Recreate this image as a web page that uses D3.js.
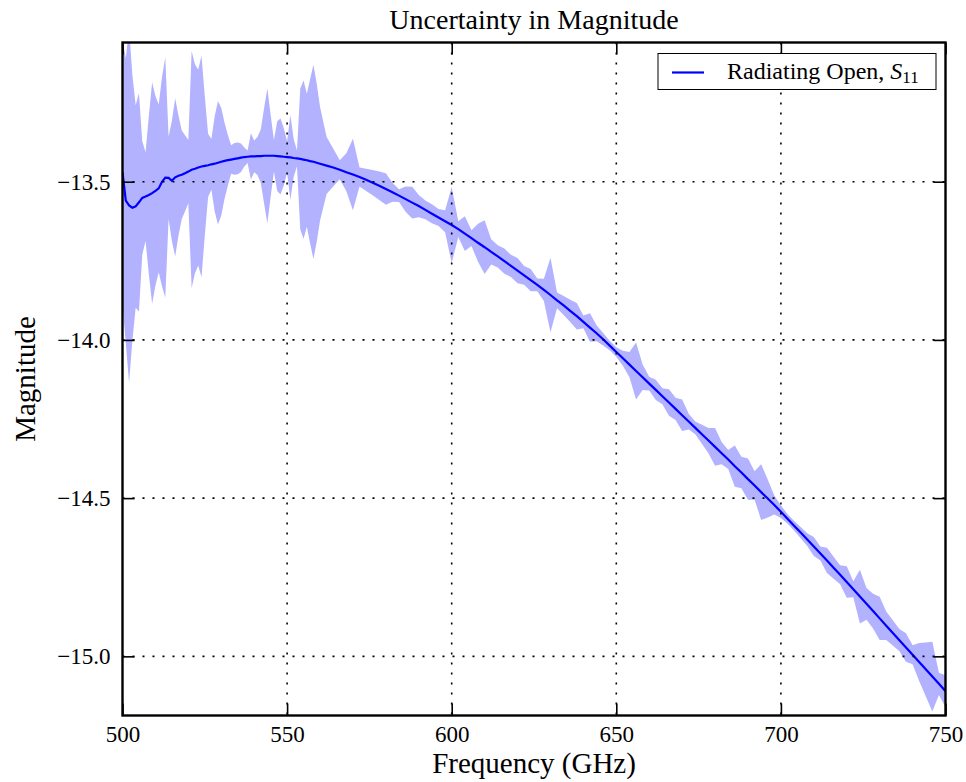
<!DOCTYPE html>
<html><head><meta charset="utf-8">
<script src="https://cdn.jsdelivr.net/npm/d3@7"></script>
<style>body{margin:0;background:#fff}</style>
</head><body><svg id="c" width="966" height="782"></svg>
<script>
const freq = [
500,501,502,503,504,505,506,507,508,509,
510,511,512,513,514,515,516,517,518,519,
520,521,522,523,524,525,526,527,528,529,
530,531,532,533,534,535,536,537,538,539,
540,541,542,543,544,545,546,547,548,549,
550,551,552,553,554,555,556,557,558,559,
560,
562,564,566,568,570,572,574,576,578,580,
582,584,586,588,590,592,594,596,598,600,
602,604,606,608,610,612,614,616,618,620,
622,624,626,628,630,632,634,636,638,640,
642,644,646,648,650,652,654,656,658,660,
662,664,666,668,670,672,674,676,678,680,
682,684,686,688,690,692,694,696,698,700,
702,704,706,708,710,712,714,716,718,720,
722,724,726,728,730,732,734,736,738,740,
742,744,746,748,750];
const meanMag = [
-13.47,-13.56,-13.575,-13.582,-13.578,-13.565,-13.551,-13.547,-13.542,-13.536,
-13.529,-13.521,-13.50,-13.487,-13.488,-13.497,-13.486,-13.481,-13.478,-13.473,
-13.468,-13.462,-13.459,-13.455,-13.452,-13.450,-13.448,-13.445,-13.443,-13.440,
-13.437,-13.434,-13.432,-13.430,-13.428,-13.426,-13.424,-13.422,-13.421,-13.420,
-13.420,-13.419,-13.419,-13.418,-13.418,-13.418,-13.418,-13.419,-13.420,-13.421,
-13.422,-13.423,-13.425,-13.426,-13.428,-13.430,-13.432,-13.435,-13.437,-13.440,
-13.443,
-13.449,-13.455,-13.462,-13.470,-13.477,-13.485,-13.494,-13.503,-13.513,-13.523,
-13.533,-13.544,-13.555,-13.566,-13.577,-13.589,-13.601,-13.613,-13.625,-13.637,
-13.650,-13.664,-13.678,-13.693,-13.707,-13.722,-13.736,-13.751,-13.766,-13.781,
-13.796,-13.811,-13.826,-13.842,-13.858,-13.875,-13.891,-13.908,-13.925,-13.943,
-13.961,-13.979,-13.998,-14.018,-14.038,-14.058,-14.078,-14.098,-14.118,-14.138,
-14.158,-14.178,-14.198,-14.218,-14.238,-14.258,-14.278,-14.298,-14.318,-14.338,
-14.358,-14.378,-14.399,-14.419,-14.440,-14.460,-14.481,-14.501,-14.522,-14.543,
-14.565,-14.587,-14.609,-14.631,-14.653,-14.675,-14.697,-14.720,-14.742,-14.765,
-14.788,-14.811,-14.834,-14.857,-14.880,-14.903,-14.926,-14.949,-14.972,-14.995,
-15.018,-15.041,-15.064,-15.087,-15.110];
const uncert = [
0.42,0.45,0.56,0.42,0.32,0.345,0.18,0.14,0.25,0.35,
0.30,0.265,0.33,0.38,0.13,0.19,0.25,0.19,0.14,0.12,
0.10,0.375,0.33,0.31,0.35,0.22,0.10,0.08,0.15,0.195,
0.17,0.12,0.08,0.045,0.05,0.05,0.045,0.03,0.02,0.073,
0.05,0.06,0.084,0.15,0.213,0.13,0.05,0.11,0.12,0.09,
0.05,0.134,0.06,0.025,0.223,0.25,0.21,0.26,0.307,0.25,
0.18,
0.09,0.06,0.03,0.06,0.113,0.03,0.035,0.04,0.045,0.05,
0.03,0.02,0.04,0.05,0.035,0.03,0.03,0.027,0.035,0.12,
0.025,0.055,0.025,0.06,0.085,0.04,0.035,0.04,0.035,0.04,
0.03,0.035,0.02,0.035,0.118,0.025,0.03,0.035,0.042,0.02,
0.045,0.025,0.02,0.015,0.015,0.024,0.04,0.09,0.04,0.022,
0.032,0.025,0.042,0.035,0.05,0.025,0.02,0.03,0.04,0.06,
0.035,0.03,0.065,0.05,0.065,0.045,0.088,0.06,0.03,0.02,
0.015,0.015,0.018,0.02,0.03,0.022,0.04,0.035,0.03,0.05,
0.025,0.085,0.05,0.055,0.068,0.045,0.04,0.035,0.045,0.03,
0.06,0.085,0.11,0.035,0.05];
const xTicks = [500,550,600,650,700,750];
const yTicks = [-13.5,-14.0,-14.5,-15.0];
const seriesName = "Radiating Open, ";

const FONT = "'Liberation Serif', 'DejaVu Serif', serif";
const svg = d3.select("#c");
const L = 122.5, R = 945.5, T = 42.5, B = 715.5;
const x = d3.scaleLinear().domain([500,750]).range([L,R]);
const y = d3.scaleLinear().domain([-15.187,-13.06]).range([B,T]);
const data = freq.map((f,i)=>({f, m:meanMag[i], u:uncert[i]}));

svg.append("defs").append("clipPath").attr("id","clip")
  .append("rect").attr("x",L).attr("y",T).attr("width",R-L).attr("height",B-T);

const plot = svg.append("g").attr("clip-path","url(#clip)");
plot.append("path").datum(data)
  .attr("fill","#b2b2ff").attr("stroke","none")
  .attr("d", d3.area().x(d=>x(d.f)).y0(d=>y(d.m-d.u)).y1(d=>y(d.m+d.u)));

// grid
const grid = svg.append("g").attr("stroke","#000").attr("stroke-width",1.6)
  .attr("stroke-dasharray","2,8").attr("fill","none");
xTicks.slice(1,-1).forEach(t=>grid.append("line").attr("x1",x(t)).attr("x2",x(t)).attr("y1",T).attr("y2",B));
yTicks.forEach(t=>grid.append("line").attr("x1",L).attr("x2",R).attr("y1",y(t)).attr("y2",y(t)));

plot.append("path").datum(data)
  .attr("fill","none").attr("stroke","#0000ff").attr("stroke-width",2.2)
  .attr("d", d3.line().x(d=>x(d.f)).y(d=>y(d.m)));

// axes
function style(g){
  g.select(".domain").remove();
  g.selectAll(".tick line").attr("stroke","#000").attr("stroke-width",1.6);
  g.selectAll(".tick text").attr("font-family",FONT).attr("font-size",23).attr("fill","#000");
}
svg.append("g").attr("transform",`translate(0,${B})`)
  .call(d3.axisBottom(x).tickValues(xTicks).tickSize(-12).tickPadding(10).tickFormat(d3.format("d"))).call(style);
svg.append("g").attr("transform",`translate(0,${T})`)
  .call(d3.axisTop(x).tickValues(xTicks).tickSize(-12).tickFormat("")).call(style);
svg.append("g").attr("transform",`translate(${L},0)`)
  .call(d3.axisLeft(y).tickValues(yTicks).tickSize(-12).tickPadding(12).tickFormat(d3.format(".1f"))).call(style);
svg.append("g").attr("transform",`translate(${R},0)`)
  .call(d3.axisRight(y).tickValues(yTicks).tickSize(-12).tickFormat("")).call(style);

svg.append("rect").attr("x",L).attr("y",T).attr("width",R-L).attr("height",B-T)
  .attr("fill","none").attr("stroke","#000").attr("stroke-width",2.4);

// titles
svg.append("text").attr("x",(L+R)/2).attr("y",29).attr("text-anchor","middle")
  .attr("font-family",FONT).attr("font-size",28).text("Uncertainty in Magnitude");
svg.append("text").attr("x",(L+R)/2).attr("y",773).attr("text-anchor","middle")
  .attr("font-family",FONT).attr("font-size",29).text("Frequency (GHz)");
svg.append("text").attr("transform",`translate(35,${(T+B)/2}) rotate(-90)`).attr("text-anchor","middle")
  .attr("font-family",FONT).attr("font-size",29).text("Magnitude");

// legend
const lg = svg.append("g");
lg.append("rect").attr("x",658).attr("y",53.5).attr("width",278).attr("height",36)
  .attr("fill","#fff").attr("stroke","#000").attr("stroke-width",1);
lg.append("line").attr("x1",672).attr("x2",704).attr("y1",72.5).attr("y2",72.5)
  .attr("stroke","#0000ff").attr("stroke-width",2.2);
const lt = lg.append("text").attr("x",727).attr("y",79).attr("font-family",FONT).attr("font-size",24);
lt.append("tspan").text(seriesName);
lt.append("tspan").attr("font-style","italic").text("S");
lt.append("tspan").attr("font-size",17).attr("dy",4).text("11");
</script>
</body></html>
